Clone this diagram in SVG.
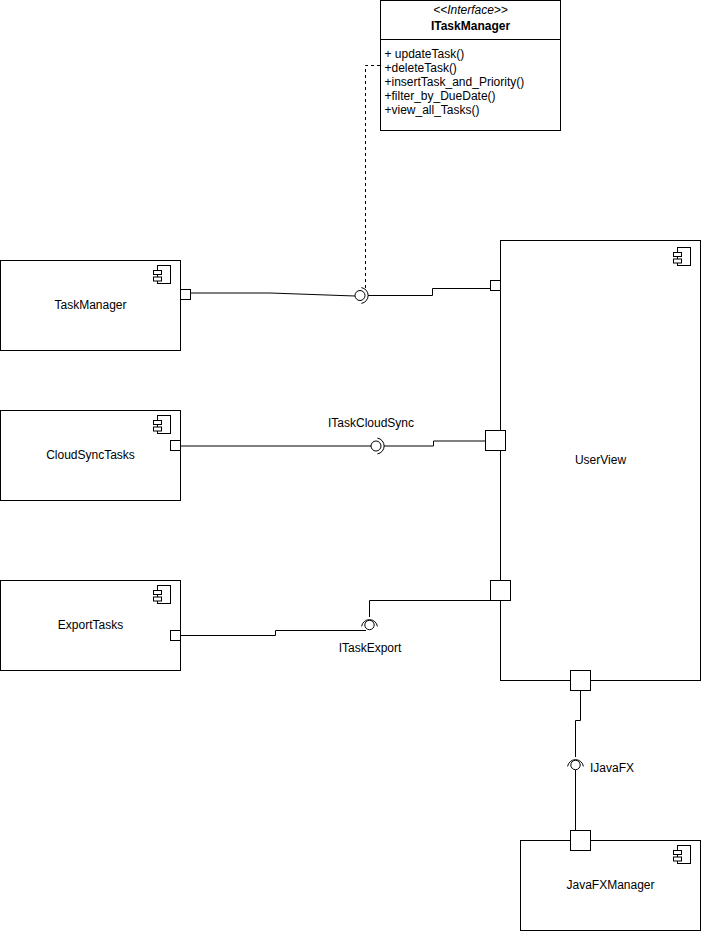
<svg xmlns="http://www.w3.org/2000/svg" width="701" height="931" viewBox="0 0 701 931">
<style>
.box{fill:#fff;stroke:#000;stroke-width:1}
.port{fill:#fff;stroke:#000;stroke-width:1}
.icon{fill:#fff;stroke:#000;stroke-width:1}
.edge{fill:none;stroke:#000;stroke-width:1}
.dash{fill:none;stroke:#000;stroke-width:1;stroke-dasharray:3,3}
.ball{fill:#fff;stroke:#000;stroke-width:1}
text{font-family:"Liberation Sans",Arial,Helvetica,sans-serif;font-size:12px;fill:#000}
.c{text-anchor:middle}
</style>
<defs>
<g id="cicon">
<rect class="icon" x="-23" y="5" width="13" height="18"/>
<rect class="icon" x="-27" y="10" width="8" height="4"/>
<rect class="icon" x="-27" y="16.5" width="8" height="4"/>
</g>
</defs>
<rect width="701" height="931" fill="#fff"/>

<g id="connectors">
<path class="edge" d="M190,293 L270,293 L355,296"/>
<path class="edge" d="M368,295.5 L432.5,295.5 L432.5,288.5 L490,288.5"/>
<path class="dash" d="M365.5,288 V65.5 H380"/>
<path class="edge" d="M180,446 L371,446"/>
<path class="edge" d="M384,446 L433.5,446 L433.5,441 L485,441"/>
<path class="edge" d="M180,635.5 L275.5,635.5 L275.5,630.5 L366,630.5"/>
<path class="edge" d="M369.5,617 V600.5 H490"/>
<path class="edge" d="M580.5,690 V720.5 H575.5 V757"/>
<path class="edge" d="M575.5,770 V830"/>
</g>

<g id="iface-ITaskManagerLink">
<circle class="ball" cx="360" cy="295.5" r="5"/>
<path class="edge" d="M361.4,287.6 A8,8 0 0 1 361.4,303.4"/>
</g>
<g id="iface-ITaskCloudSync">
<circle class="ball" cx="376" cy="446" r="5"/>
<path class="edge" d="M377.4,438.1 A8,8 0 0 1 377.4,453.9"/>
<text class="c" x="371" y="427">ITaskCloudSync</text>
</g>
<g id="iface-ITaskExport">
<circle class="ball" cx="369.5" cy="625" r="4.7"/>
<path class="edge" d="M361.6,626.4 A8,8 0 0 1 377.4,626.4"/>
<text class="c" x="370" y="652">ITaskExport</text>
</g>
<g id="iface-IJavaFX">
<circle class="ball" cx="575.5" cy="765" r="4.7"/>
<path class="edge" d="M567.6,766.4 A8,8 0 0 1 583.4,766.4"/>
<text x="590" y="772">IJavaFX</text>
</g>

<g id="ITaskManager">
<rect class="box" x="380.5" y="0.5" width="180" height="130"/>
<line class="edge" x1="380.5" y1="39.5" x2="560.5" y2="39.5" stroke="#999"/>
<text class="c" x="470.5" y="14" font-style="italic" font-size="11px">&lt;&lt;Interface&gt;&gt;</text>
<text class="c" x="470.5" y="30" font-weight="bold">ITaskManager</text>
<text x="384.5" y="57.5">+ updateTask()</text>
<text x="384.5" y="71.7">+deleteTask()</text>
<text x="384.5" y="85.9">+insertTask_and_Priority()</text>
<text x="384.5" y="100.1">+filter_by_DueDate()</text>
<text x="384.5" y="114.3">+view_all_Tasks()</text>
</g>

<g id="TaskManager">
<rect class="box" x="0.5" y="260.5" width="180" height="90"/>
<use href="#cicon" x="180.5" y="260.5"/>
<rect class="port" x="180.5" y="289.5" width="10" height="10"/>
<text class="c" x="90.5" y="309">TaskManager</text>
</g>

<g id="CloudSyncTasks">
<rect class="box" x="0.5" y="410.5" width="180" height="90"/>
<use href="#cicon" x="180.5" y="410.5"/>
<rect class="port" x="170.5" y="440.5" width="10" height="10"/>
<text class="c" x="90.5" y="459">CloudSyncTasks</text>
</g>

<g id="ExportTasks">
<rect class="box" x="0.5" y="580.5" width="180" height="90"/>
<use href="#cicon" x="180.5" y="580.5"/>
<rect class="port" x="170.5" y="630.5" width="10" height="10"/>
<text class="c" x="90.5" y="629">ExportTasks</text>
</g>

<g id="UserView">
<rect class="box" x="500.5" y="240.5" width="200" height="440"/>
<use href="#cicon" x="700.5" y="242.5"/>
<rect class="port" x="490.5" y="280.5" width="10" height="10"/>
<rect class="port" x="485.5" y="430.5" width="20" height="20"/>
<rect class="port" x="490.5" y="580.5" width="20" height="20"/>
<rect class="port" x="570.5" y="670.5" width="20" height="20"/>
<text class="c" x="600.5" y="464">UserView</text>
</g>

<g id="JavaFXManager">
<rect class="box" x="520.5" y="840.5" width="180" height="90"/>
<use href="#cicon" x="700.5" y="840.5"/>
<rect class="port" x="570.5" y="830.5" width="20" height="20"/>
<text class="c" x="610.5" y="889">JavaFXManager</text>
</g>
</svg>
